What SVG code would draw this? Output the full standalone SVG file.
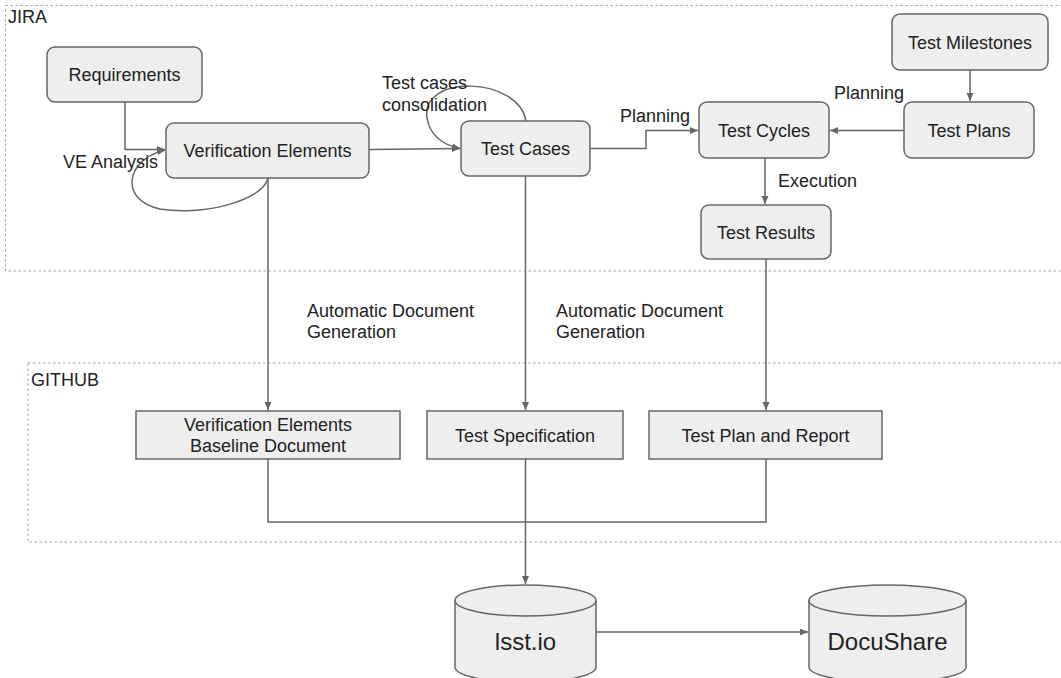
<svg xmlns="http://www.w3.org/2000/svg" width="1061" height="678" viewBox="0 0 1061 678">
<defs>
<style>
.box{fill:#eeeeee;stroke:#666666;stroke-width:1.5}
.cont{fill:none;stroke:#a6a6a6;stroke-width:1;stroke-dasharray:2.5,2.5}
.t{font-family:"Liberation Sans",Arial,sans-serif;font-size:18px;fill:#222222}
.tc{font-family:"Liberation Sans",Arial,sans-serif;font-size:18px;fill:#222222;text-anchor:middle}
.tb{font-family:"Liberation Sans",Arial,sans-serif;font-size:24px;fill:#222222;text-anchor:middle}
.c{fill:none;stroke:#666666;stroke-width:1.5}
</style>
<marker id="arr" markerUnits="userSpaceOnUse" markerWidth="9" markerHeight="8" refX="8" refY="3.5" orient="auto">
<path d="M0,0 L8,3.5 L0,7 Z" fill="#666666"/>
</marker>
</defs>
<rect width="1061" height="678" fill="#ffffff"/>
<g id="jira">
<rect class="cont" x="5.5" y="5.5" width="1070" height="265.5"/>
<text class="t" x="8" y="23">JIRA</text>
</g>
<g id="github">
<rect class="cont" x="28" y="363" width="1050" height="179"/>
<text class="t" x="31" y="386">GITHUB</text>
</g>
<g id="connectors">
<path class="c" d="M125,102 V149.5 H165" marker-end="url(#arr)"/>
<path class="c" d="M268,178 C262,202 200,216 160,209 C120,201 124,160 165,150" marker-end="url(#arr)"/>
<path class="c" d="M369,149.5 L460,148.5" marker-end="url(#arr)"/>
<path class="c" d="M526,121 C518,76 420,74 427,118 C430,136 444,145 460,148.5" marker-end="url(#arr)"/>
<path class="c" d="M590,148.5 H646 V130.5 H698" marker-end="url(#arr)"/>
<path class="c" d="M970,70 V101" marker-end="url(#arr)"/>
<path class="c" d="M904,130.5 H830" marker-end="url(#arr)"/>
<path class="c" d="M765,158 V204" marker-end="url(#arr)"/>
<path class="c" d="M268,178 V410" marker-end="url(#arr)"/>
<path class="c" d="M525.5,176 V410" marker-end="url(#arr)"/>
<path class="c" d="M766,259 V410" marker-end="url(#arr)"/>
<path class="c" d="M268,459 V522 H766 V459"/>
<path class="c" d="M525.5,459 V584" marker-end="url(#arr)"/>
<path class="c" d="M596,632 H808" marker-end="url(#arr)"/>
<text class="t" x="63" y="168">VE Analysis</text>
<text class="t" x="382" y="89">Test cases</text>
<text class="t" x="382" y="111">consolidation</text>
<text class="t" x="620" y="122">Planning</text>
<text class="t" x="834" y="99">Planning</text>
<text class="t" x="778" y="187">Execution</text>
<text class="t" x="307" y="317">Automatic Document</text>
<text class="t" x="307" y="338">Generation</text>
<text class="t" x="556" y="317">Automatic Document</text>
<text class="t" x="556" y="338">Generation</text>
</g>
<g id="requirements">
<rect class="box" x="47" y="47" width="155" height="55" rx="8"/>
<text class="tc" x="124.5" y="81">Requirements</text>
</g>
<g id="verification-elements">
<rect class="box" x="166" y="123" width="203" height="55" rx="8"/>
<text class="tc" x="267.5" y="157">Verification Elements</text>
</g>
<g id="test-cases">
<rect class="box" x="461" y="121" width="129" height="55" rx="8"/>
<text class="tc" x="525.5" y="155">Test Cases</text>
</g>
<g id="test-cycles">
<rect class="box" x="699" y="102" width="130" height="56" rx="8"/>
<text class="tc" x="764" y="136.5">Test Cycles</text>
</g>
<g id="test-plans">
<rect class="box" x="904" y="102" width="130" height="56" rx="8"/>
<text class="tc" x="969" y="136.5">Test Plans</text>
</g>
<g id="test-milestones">
<rect class="box" x="892" y="14" width="156" height="56" rx="8"/>
<text class="tc" x="970" y="48.5">Test Milestones</text>
</g>
<g id="test-results">
<rect class="box" x="701" y="205" width="130" height="54" rx="8"/>
<text class="tc" x="766" y="238.5">Test Results</text>
</g>
<g id="ve-baseline">
<rect class="box" x="136" y="411" width="264" height="48"/>
<text class="tc" x="268" y="431">Verification Elements</text>
<text class="tc" x="268" y="452">Baseline Document</text>
</g>
<g id="test-specification">
<rect class="box" x="427" y="411" width="196" height="48"/>
<text class="tc" x="525" y="441.5">Test Specification</text>
</g>
<g id="test-plan-report">
<rect class="box" x="649" y="411" width="233" height="48"/>
<text class="tc" x="765.5" y="441.5">Test Plan and Report</text>
</g>
<g id="lsst-io">
<path class="box" d="M455,600.5 A70.5,15.5 0 0 1 596,600.5 V667 A70.5,15.5 0 0 1 455,667 Z"/>
<path class="c" d="M455,600.5 A70.5,15.5 0 0 0 596,600.5"/>
<text class="tb" x="525.5" y="650">lsst.io</text>
</g>
<g id="docushare">
<path class="box" d="M809,600.5 A78.5,15.5 0 0 1 966,600.5 V667 A78.5,15.5 0 0 1 809,667 Z"/>
<path class="c" d="M809,600.5 A78.5,15.5 0 0 0 966,600.5"/>
<text class="tb" x="887.5" y="650">DocuShare</text>
</g>
</svg>
